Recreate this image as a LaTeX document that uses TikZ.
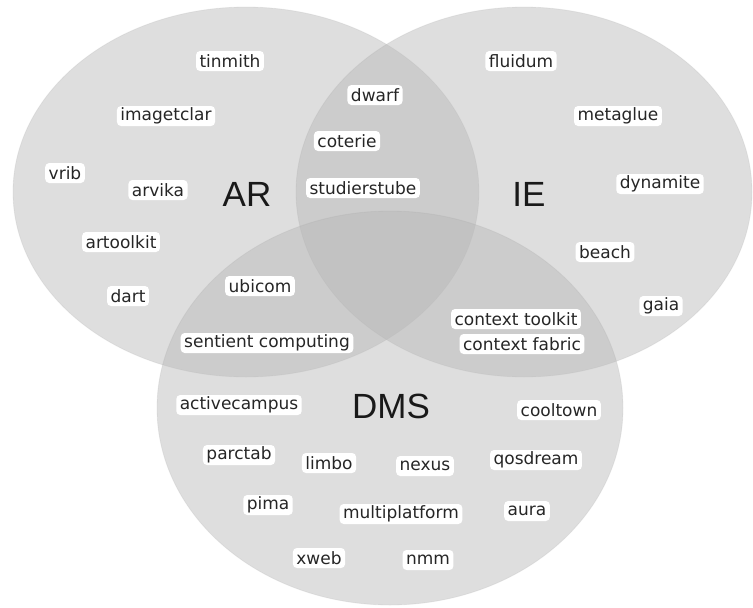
\documentclass[tikz,border=0pt]{standalone}
\usepackage{fontspec}
\setmainfont{DejaVu Sans}
\newfontfamily\setfont{Liberation Sans}
\usepackage{tikz}
\usetikzlibrary{positioning}
\tikzset{
% small project labels
tag/.style={rectangle, fill=white, rounded corners=4pt,
  inner xsep=3.5pt, inner ysep=0pt, minimum height=20pt,
  text=black!85, font=\fontsize{17}{19}\selectfont},
% big set names
setname/.style={font=\setfont\fontsize{35}{40}\selectfont, inner sep=0, text=black!90},
% the three sets
setfill/.style={fill=black!28, fill opacity=0.46,
  draw=black!40, draw opacity=0.15, line width=0.8pt}
}
\begin{document}
\begin{tikzpicture}[x=1pt, y=-1pt, inner sep=0, outer sep=0]
  \useasboundingbox[fill=white] (0,0) rectangle (753,608);

  % sets
  \path[setfill] (246,192) ellipse [x radius=233pt, y radius=185pt];
  \path[setfill] (524,192) ellipse [x radius=228pt, y radius=185pt];
  \path[setfill] (390,408) ellipse [x radius=233pt, y radius=197pt];

  \node[setname] (ar) at (247,194) {AR};
  \node[setname] (ie) at (529,194) {IE};
  \node[setname] (dms) at (391,406) {DMS};

  % AR only
  \node[tag] (tinmith) at (230,61) {tinmith};
  \node[tag] (imagetclar) at (166,116) {imagetclar};
  \node[tag] (vrib) at (65,173) {vrib};
  \node[tag] (arvika) at (158,190) {arvika};
  \node[tag] (artoolkit) at (121,242) {artoolkit};
  \node[tag] (dart) at (128,296) {dart};

  % AR and IE
  \node[tag] (dwarf) at (375,95) {dwarf};
  \node[tag] (coterie) at (347,141) {coterie};
  \node[tag] (studierstube) at (363,188) {studierstube};

  % IE only
  \node[tag] (fluidum) at (521,61) {fluidum};
  \node[tag] (metaglue) at (618,116) {metaglue};
  \node[tag] (dynamite) at (660,184) {dynamite};
  \node[tag] (beach) at (605,252) {beach};
  \node[tag] (gaia) at (661,306) {gaia};

  % AR and DMS
  \node[tag] (ubicom) at (260,286) {ubicom};
  \node[tag] (sentient) at (267,343) {sentient computing};

  % IE and DMS
  \node[tag] (ctoolkit) at (516,319) {context toolkit};
  \node[tag] (cfabric) at (522,344) {context fabric};

  % DMS only
  \node[tag] (activecampus) at (239,405) {activecampus};
  \node[tag] (cooltown) at (559,410) {cooltown};
  \node[tag] (parctab) at (239,455) {parctab};
  \node[tag] (limbo) at (329,463) {limbo};
  \node[tag] (nexus) at (425,466) {nexus};
  \node[tag] (qosdream) at (536,460) {qosdream};
  \node[tag] (pima) at (268,505) {pima};
  \node[tag] (multiplatform) at (401,514) {multiplatform};
  \node[tag] (aura) at (527,511) {aura};
  \node[tag] (xweb) at (319,558) {xweb};
  \node[tag] (nmm) at (428,560) {nmm};
\end{tikzpicture}
\end{document}
